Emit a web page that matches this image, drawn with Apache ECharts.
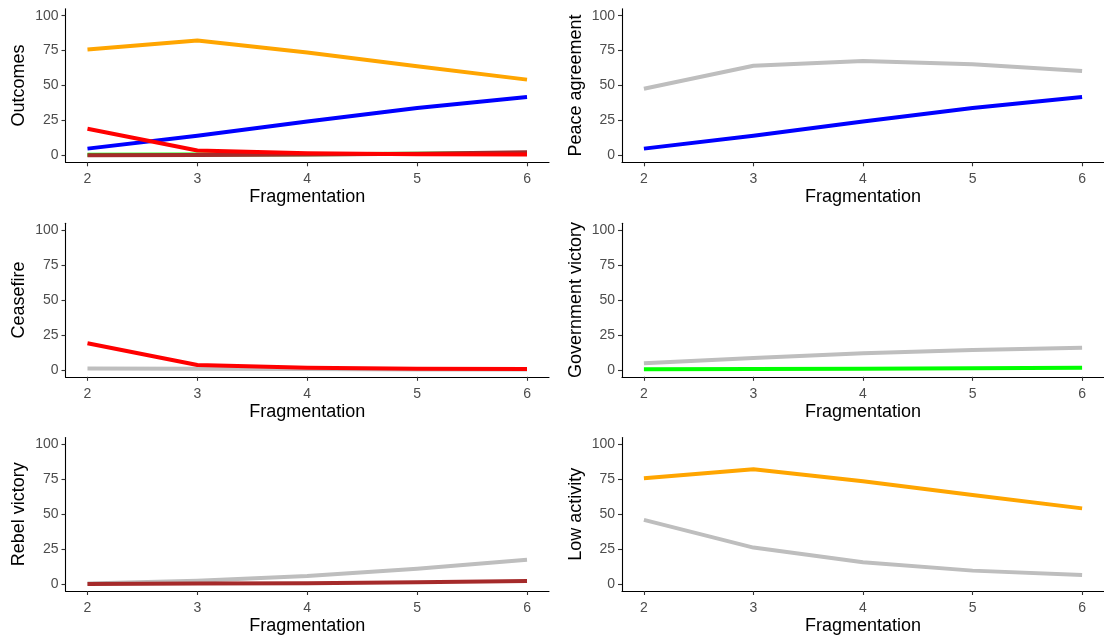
<!DOCTYPE html>
<html>
<head>
<meta charset="utf-8">
<script src="https://cdn.jsdelivr.net/npm/echarts@6/dist/echarts.min.js"></script>
<style>
  html, body { margin: 0; padding: 0; background: #ffffff; }
  #chart { width: 1104px; height: 636px; }
</style>
</head>
<body>
<div id="chart"></div>
<script>
// Fragmentation levels on the x axis
const fragmentation = [2, 3, 4, 5, 6];
const xTicks = [2, 3, 4, 5, 6];
const yTicks = [0, 25, 50, 75, 100];

// Predicted outcome probabilities (%) by fragmentation
const lowActivity       = [75.8, 82.3, 73.7, 63.8, 54.2];
const peaceAgreement    = [4.8, 14.0, 24.2, 33.9, 41.8];
const ceasefire         = [19.0, 3.5, 1.5, 0.8, 0.5];
const governmentVictory = [0.4, 0.6, 0.8, 1.1, 1.4];
const rebelVictory      = [0.0, 0.3, 0.6, 1.2, 2.2];

// Comparison (grey) series for each outcome panel
const peaceAgreementRef    = [47.7, 64.2, 67.6, 65.3, 60.4];
const ceasefireRef         = [1.0, 0.8, 0.5, 0.3, 0.2];
const governmentVictoryRef = [4.7, 8.5, 11.8, 14.2, 15.8];
const rebelVictoryRef      = [0.4, 2.3, 5.7, 11.0, 17.4];
const lowActivityRef       = [46.0, 26.1, 15.6, 9.6, 6.5];

const COLORS = {
  low: '#FFA500',
  peace: '#0000FF',
  ceasefire: '#FF0000',
  gov: '#00FF00',
  rebel: '#A52A2A',
  ref: '#BEBEBE'
};

const FONT = '"Liberation Sans", Arial, sans-serif';

// Panel layout: [left, top] of each plotting region
const colLeft = [65.5, 622];
const colWidth = [483.5, 485];
const rowTop = [8.7, 223.2, 437.5];
const plotHeight = 153.6;

const panels = [
  { title: 'Outcomes', col: 0, row: 0, lines: [
      { v: peaceAgreement, c: COLORS.peace },
      { v: governmentVictory, c: COLORS.gov },
      { v: rebelVictory, c: COLORS.rebel },
      { v: ceasefire, c: COLORS.ceasefire },
      { v: lowActivity, c: COLORS.low } ] },
  { title: 'Peace agreement', col: 1, row: 0, lines: [
      { v: peaceAgreementRef, c: COLORS.ref },
      { v: peaceAgreement, c: COLORS.peace } ] },
  { title: 'Ceasefire', col: 0, row: 1, lines: [
      { v: ceasefireRef, c: COLORS.ref },
      { v: ceasefire, c: COLORS.ceasefire } ] },
  { title: 'Government victory', col: 1, row: 1, lines: [
      { v: governmentVictoryRef, c: COLORS.ref },
      { v: governmentVictory, c: COLORS.gov } ] },
  { title: 'Rebel victory', col: 0, row: 2, lines: [
      { v: rebelVictoryRef, c: COLORS.ref },
      { v: rebelVictory, c: COLORS.rebel } ] },
  { title: 'Low activity', col: 1, row: 2, lines: [
      { v: lowActivityRef, c: COLORS.ref },
      { v: lowActivity, c: COLORS.low } ] }
];

const grid = [], xAxis = [], yAxis = [], series = [];

panels.forEach((p, i) => {
  grid.push({
    left: colLeft[p.col],
    top: rowTop[p.row],
    width: colWidth[p.col],
    height: plotHeight,
    containLabel: false
  });
  xAxis.push({
    gridIndex: i,
    type: 'value',
    min: 1.8,
    max: 6.2,
    name: 'Fragmentation',
    nameLocation: 'middle',
    nameGap: 26,
    nameTextStyle: { fontFamily: FONT, fontSize: 18, color: '#000000', verticalAlign: 'top' },
    axisLine: { show: true, onZero: false, lineStyle: { color: '#000000', width: 1.1 } },
    axisTick: { show: true, length: 4, customValues: xTicks, lineStyle: { color: '#333333', width: 1.1 } },
    axisLabel: { customValues: xTicks, margin: 10, fontFamily: FONT, fontSize: 14, color: '#4D4D4D' },
    splitLine: { show: false }
  });
  yAxis.push({
    gridIndex: i,
    type: 'value',
    min: -5,
    max: 105,
    name: p.title,
    nameLocation: 'middle',
    nameGap: 37,
    nameTextStyle: { fontFamily: FONT, fontSize: 18, color: '#000000' },
    axisLine: { show: true, onZero: false, lineStyle: { color: '#000000', width: 1.1 } },
    axisTick: { show: true, length: 4, customValues: yTicks, lineStyle: { color: '#333333', width: 1.1 } },
    axisLabel: { customValues: yTicks, margin: 7, fontFamily: FONT, fontSize: 14, color: '#4D4D4D' },
    splitLine: { show: false }
  });
  p.lines.forEach(l => {
    series.push({
      type: 'line',
      xAxisIndex: i,
      yAxisIndex: i,
      data: fragmentation.map((x, k) => [x, l.v[k]]),
      showSymbol: false,
      symbol: 'none',
      silent: true,
      animation: false,
      lineStyle: { color: l.c, width: 4, cap: 'butt', join: 'round' }
    });
  });
});

const chart = echarts.init(document.getElementById('chart'), null, { renderer: 'canvas' });
chart.setOption({
  backgroundColor: '#ffffff',
  animation: false,
  grid, xAxis, yAxis, series
});
</script>
</body>
</html>
